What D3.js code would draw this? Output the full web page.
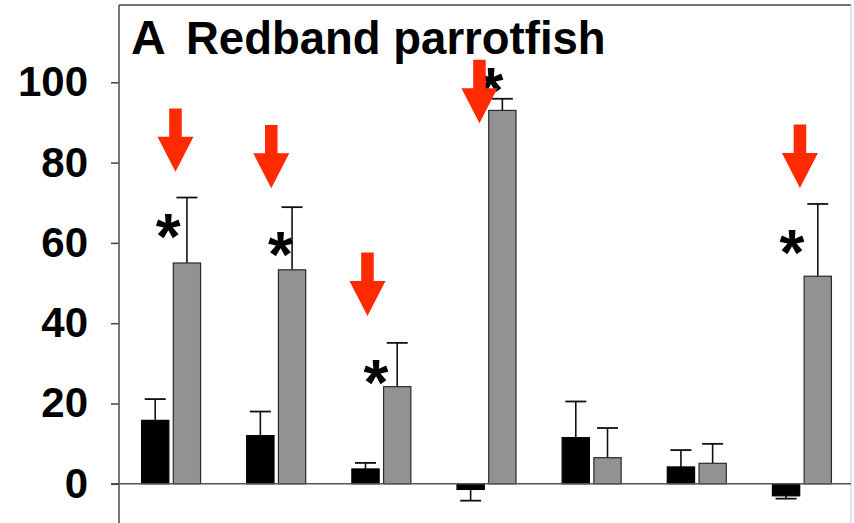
<!DOCTYPE html>
<html>
<head>
<meta charset="utf-8">
<script src="https://cdn.jsdelivr.net/npm/d3@7"></script>
<style>
  html, body { margin: 0; padding: 0; background: #fff; }
  svg { display: block; font-family: "Liberation Sans", Arial, Helvetica, sans-serif; }
</style>
</head>
<body>
<svg id="chart" width="854" height="523"></svg>
<script>
// ---- data ----
const categories = ["1", "2", "3", "4", "5", "6", "7"];
const seriesNames = ["black", "gray"];
const blackValues = [15.8, 12.0, 3.7, -1.4, 11.5, 4.2, -3.0];
const blackErrors = [5.3, 6.0, 1.5, 2.8, 9.0, 4.2, 0.7];
const grayValues = [55.0, 53.3, 24.2, 93.0, 6.5, 5.1, 51.7];
const grayErrors = [16.3, 15.6, 10.9, 2.9, 7.4, 4.85, 18.0];
const yTicks = [0, 20, 40, 60, 80, 100];
const titleLetter = "A";
const titleText = "Redband parrotfish";
// significance annotations (category index, offset within category step, value)
const asteriskGroups = [0, 1, 2, 3, 6];
const asteriskOffsets = [-0.027, 0.041, -0.051, 0.043, -0.095];
const asteriskValues = [64.9, 60.5, 28.6, 101.2, 61.0];
const arrowGroups = [0, 1, 2, 3, 6];
const arrowOffsets = [0.042, -0.047, -0.132, -0.067, -0.019];
const arrowTipValues = [77.7, 73.6, 41.8, 89.8, 73.7];

(function () {
// ---- layout ----
const pLeft = 119, pRight = 851, pTop = 5, pBottom = 523;
const svg = d3.select("#chart");

const x = d3.scaleBand().domain(categories).range([118.5, 854.5]).paddingInner(0).paddingOuter(0);
const xs = d3.scaleBand().domain(seriesNames).range([-29.5, 29.5]).paddingInner(0.14).paddingOuter(0);
const y = d3.scaleLinear().domain([0, 100]).range([483.8, 82.3]);

const rows = categories.map((c, i) => ({
  c,
  vals: [
    { s: "black", v: blackValues[i], e: blackErrors[i] },
    { s: "gray", v: grayValues[i], e: grayErrors[i] }
  ]
}));

// frame: top and right border
svg.append("line").attr("x1", pLeft).attr("x2", pRight).attr("y1", pTop).attr("y2", pTop)
  .attr("stroke", "#444").attr("stroke-width", 1.5);
svg.append("line").attr("x1", pRight).attr("x2", pRight).attr("y1", pTop).attr("y2", pBottom)
  .attr("stroke", "#cfcfcf").attr("stroke-width", 1.2);

// error bars
const eg = svg.append("g");
rows.forEach(r => {
  r.vals.forEach(d => {
    const cx = x(r.c) + x.bandwidth() / 2 + xs(d.s) + xs.bandwidth() / 2;
    const end = d.v >= 0 ? d.v + d.e : d.v - d.e;
    eg.append("line").attr("x1", cx).attr("x2", cx).attr("y1", y(d.v)).attr("y2", y(end))
      .attr("stroke", "#111").attr("stroke-width", 1.6);
    eg.append("line").attr("x1", cx - 10.5).attr("x2", cx + 10.5).attr("y1", y(end)).attr("y2", y(end))
      .attr("stroke", "#111").attr("stroke-width", 1.8);
  });
});

// bars
const bg = svg.append("g");
rows.forEach(r => {
  r.vals.forEach(d => {
    const bx = x(r.c) + x.bandwidth() / 2 + xs(d.s);
    bg.append("rect")
      .attr("x", bx).attr("width", xs.bandwidth())
      .attr("y", Math.min(y(d.v), y(0))).attr("height", Math.abs(y(d.v) - y(0)))
      .attr("fill", d.s === "black" ? "#000" : "#929292")
      .attr("stroke", d.s === "black" ? "#000" : "#2a2a2a")
      .attr("stroke-width", 1.2);
  });
});

// zero line
svg.append("line").attr("x1", 111).attr("x2", pRight).attr("y1", y(0)).attr("y2", y(0))
  .attr("stroke", "#555").attr("stroke-width", 1.5);

// y axis
const yAxis = d3.axisLeft(y).tickValues(yTicks).tickSize(8).tickPadding(23).tickFormat(d3.format("d"));
const ag = svg.append("g").attr("transform", `translate(${pLeft},0)`).call(yAxis);
ag.select(".domain").remove();
ag.selectAll(".tick line").attr("stroke", "#444").attr("stroke-width", 1.5);
ag.selectAll(".tick text").attr("font-size", 42).attr("font-weight", "bold")
  .attr("fill", "#000").attr("font-family", '"Liberation Sans", Arial, sans-serif');
svg.append("line").attr("x1", pLeft).attr("x2", pLeft).attr("y1", pTop).attr("y2", pBottom)
  .attr("stroke", "#555").attr("stroke-width", 1.6);

// title
svg.append("text").attr("x", 131).attr("y", 53.5).attr("font-size", 48).attr("font-weight", "bold")
  .attr("fill", "#000").text(titleLetter);
svg.append("text").attr("x", 186).attr("y", 53.5).attr("font-size", 45.5).attr("font-weight", "bold")
  .attr("fill", "#000").text(titleText);

// asterisks
const astSize = 64;
asteriskGroups.forEach((g, i) => {
  const cx = x(categories[g]) + x.bandwidth() / 2 + asteriskOffsets[i] * x.step();
  const cy = y(asteriskValues[i]);
  svg.append("text").attr("x", cx).attr("y", cy + astSize * 0.56)
    .attr("text-anchor", "middle").attr("font-size", astSize).attr("font-weight", "bold")
    .attr("fill", "#000").text("*");
});

// arrows
const shaftW = 12.5, headW = 36, headH = 35, totalH = 63.4;
arrowGroups.forEach((g, i) => {
  const cx = x(categories[g]) + x.bandwidth() / 2 + arrowOffsets[i] * x.step();
  const tip = y(arrowTipValues[i]);
  const pts = [
    [cx - shaftW / 2, tip - totalH],
    [cx + shaftW / 2, tip - totalH],
    [cx + shaftW / 2, tip - headH],
    [cx + headW / 2, tip - headH],
    [cx, tip],
    [cx - headW / 2, tip - headH],
    [cx - shaftW / 2, tip - headH]
  ];
  svg.append("path").attr("d", d3.line()(pts) + "Z").attr("fill", "#ff2a00");
});
})();
</script>
</body>
</html>
